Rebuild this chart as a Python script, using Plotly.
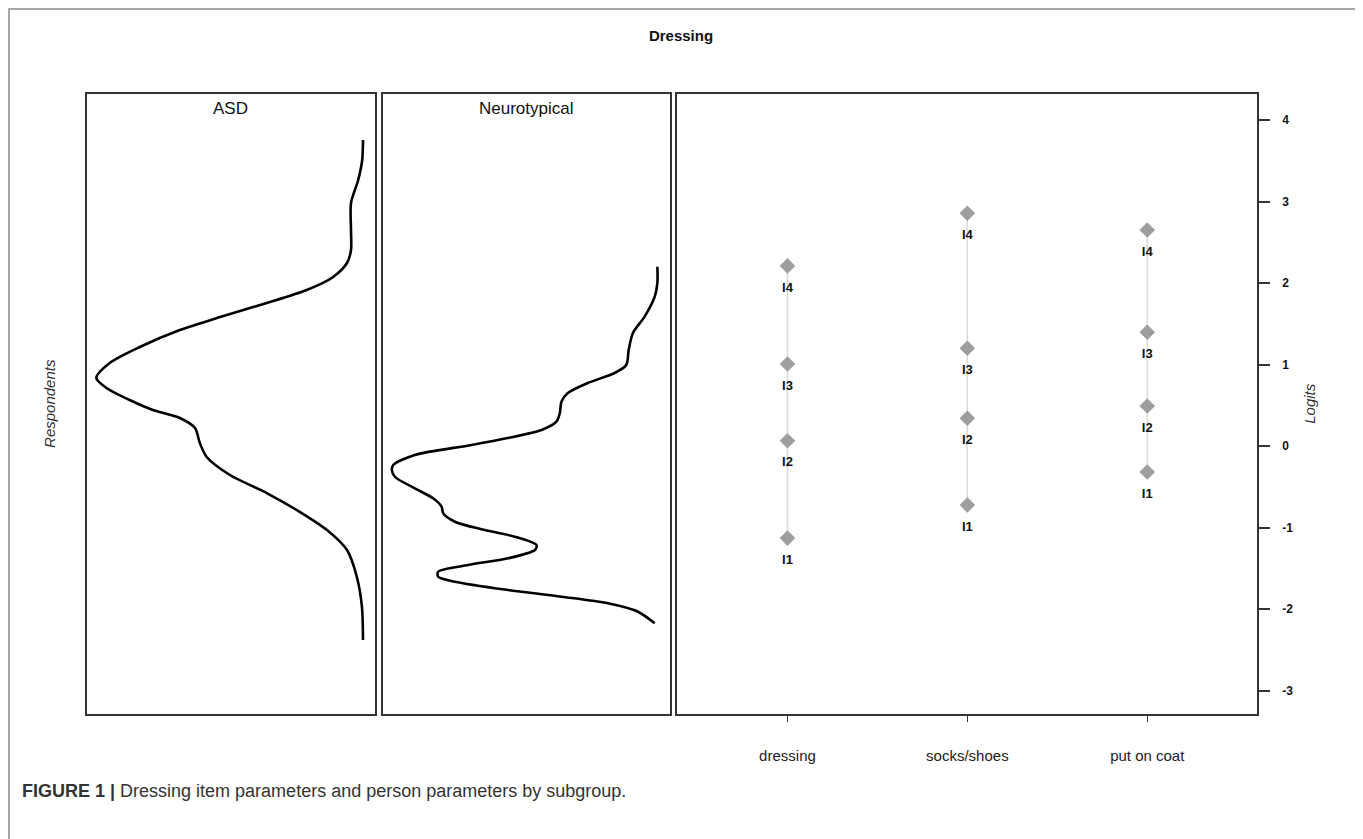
import plotly.graph_objects as go

# ---------------- data ----------------
title_text = "Dressing"
groups = ["ASD", "Neurotypical"]

# person-parameter density curves (logit, relative density; peak = 1)
asd_logit = [3.755, 3.509, 3.264, 2.982, 2.650, 2.405, 2.245, 2.074, 1.914, 1.755, 1.583, 1.423,
             1.215, 1.018, 0.834, 0.712, 0.564, 0.442, 0.344, 0.221, 0.037, -0.135, -0.356,
             -0.577, -0.810, -1.031, -1.276, -1.607, -1.975, -2.380]
asd_dens = [0.0, 0.003, 0.018, 0.045, 0.045, 0.045, 0.060, 0.112, 0.211, 0.361, 0.536, 0.687,
            0.837, 0.950, 1.0, 0.962, 0.875, 0.788, 0.687, 0.630, 0.612, 0.586, 0.499,
            0.361, 0.236, 0.135, 0.060, 0.023, 0.004, 0.0]

nt_logit = [2.200, 2.000, 1.832, 1.587, 1.387, 1.178, 0.994, 0.896, 0.773, 0.650, 0.544, 0.405,
            0.298, 0.196, 0.098, 0.012, -0.110, -0.233, -0.294, -0.377, -0.519, -0.642, -0.745,
            -0.826, -0.929, -1.022, -1.113, -1.215, -1.276, -1.378, -1.460, -1.542, -1.604,
            -1.665, -1.767, -1.849, -1.930, -2.033, -2.175]
nt_dens = [0.001, 0.001, 0.011, 0.049, 0.093, 0.109, 0.118, 0.162, 0.263, 0.338, 0.362, 0.368,
           0.381, 0.437, 0.564, 0.700, 0.914, 0.995, 1.0, 0.989, 0.914, 0.845, 0.813,
           0.807, 0.763, 0.663, 0.538, 0.456, 0.462, 0.563, 0.713, 0.826, 0.826,
           0.763, 0.563, 0.362, 0.187, 0.074, 0.011]

# item thresholds (logits)
items = ["dressing", "socks/shoes", "put on coat"]
threshold_labels = ["I1", "I2", "I3", "I4"]
dressing_thr = [-1.13, 0.065, 1.006, 2.21]
socks_thr = [-0.724, 0.34, 1.199, 2.855]
coat_thr = [-0.319, 0.49, 1.395, 2.65]
item_thresholds = [dressing_thr, socks_thr, coat_thr]

logit_ticks = [-3, -2, -1, 0, 1, 2, 3, 4]
caption = "<b>FIGURE 1 |</b> Dressing item parameters and person parameters by subgroup."

# ---------------- layout geometry ----------------
W, H = 1363, 839
OFF = 8  # page body margin of the html page
def px_x(x): return (x - OFF) / W
def px_y(y): return 1 - (y - OFF) / H

y_dom = [px_y(713.5), px_y(94)]
y_rng = [-3.282, 4.319]
dens_rng = [1.035, -0.045]

fig = go.Figure()

FONT = "Liberation Sans, Arial, sans-serif"
BOX = "#333333"

# density curves
fig.add_trace(go.Scatter(x=asd_dens, y=asd_logit, mode="lines", xaxis="x", yaxis="y",
                         line=dict(color="black", width=2.6, shape="spline", smoothing=0.8),
                         showlegend=False, hoverinfo="skip"))
fig.add_trace(go.Scatter(x=nt_dens, y=nt_logit, mode="lines", xaxis="x2", yaxis="y2",
                         line=dict(color="black", width=2.6, shape="spline", smoothing=0.8),
                         showlegend=False, hoverinfo="skip"))

# item map
for i, (name, thr) in enumerate(zip(items, item_thresholds)):
    xpos = i + 1
    fig.add_trace(go.Scatter(x=[xpos, xpos], y=[min(thr), max(thr)], mode="lines",
                             xaxis="x3", yaxis="y3",
                             line=dict(color="#DADADA", width=1.5),
                             showlegend=False, hoverinfo="skip"))
    fig.add_trace(go.Scatter(x=[xpos] * len(thr), y=thr, mode="markers",
                             xaxis="x3", yaxis="y3",
                             marker=dict(symbol="diamond", size=12, color="#9E9E9E",
                                         line=dict(width=0)),
                             showlegend=False, hoverinfo="skip"))
    # labels placed below each threshold (transparent marker sets the offset)
    fig.add_trace(go.Scatter(x=[xpos] * len(thr), y=thr, mode="markers+text",
                             xaxis="x3", yaxis="y3",
                             marker=dict(size=24, color="rgba(0,0,0,0)", line=dict(width=0)),
                             text=threshold_labels, textposition="bottom center",
                             textfont=dict(family=FONT, size=13, color="#111111", weight="bold"),
                             showlegend=False, hoverinfo="skip"))

common_box = dict(showline=True, mirror=True, linecolor=BOX, linewidth=1.5,
                  showgrid=False, zeroline=False)

fig.update_layout(
    width=W, height=H, autosize=False,
    margin=dict(l=0, r=0, t=0, b=0),
    paper_bgcolor="white", plot_bgcolor="white",
    font=dict(family=FONT, color="#222222"),
    title=dict(text="<b>" + title_text + "</b>", x=px_x(681), xanchor="center",
               y=px_y(36), yanchor="middle", font=dict(family=FONT, size=15, color="#111111")),
    xaxis=dict(domain=[px_x(87), px_x(375)], range=dens_rng, showticklabels=False,
               ticks="", **common_box),
    yaxis=dict(domain=y_dom, range=y_rng, showticklabels=False, ticks="",
               title=dict(text="Respondents", standoff=26,
                          font=dict(family=FONT, size=15, style="italic", color="#333333")),
               **common_box),
    xaxis2=dict(domain=[px_x(382.6), px_x(669.6)], range=dens_rng, showticklabels=False,
                ticks="", anchor="y2", **common_box),
    yaxis2=dict(domain=y_dom, range=y_rng, showticklabels=False, ticks="", anchor="x2",
                **common_box),
    xaxis3=dict(domain=[px_x(677), px_x(1257)], range=[0.386, 3.61], anchor="y3",
                tickmode="array", tickvals=[1, 2, 3], ticktext=items,
                ticks="outside", ticklen=7, tickcolor=BOX, tickwidth=1.2,
                ticklabelstandoff=21,
                tickfont=dict(family=FONT, size=15, color="#222222"), **common_box),
    yaxis3=dict(domain=y_dom, range=y_rng, anchor="x3", side="right",
                tickmode="array", tickvals=logit_ticks,
                ticktext=[str(v) for v in logit_ticks],
                ticks="outside", ticklen=11, tickcolor=BOX, tickwidth=1.5,
                ticklabelstandoff=10,
                tickfont=dict(family=FONT, size=12, color="#111111", weight="bold"),
                title=dict(text="Logits", standoff=12,
                           font=dict(family=FONT, size=15, style="italic", color="#333333")),
                **common_box),
)

# panel titles
for xa, g in zip(["x domain", "x2 domain"], groups):
    fig.add_annotation(text=g, xref=xa, yref="paper", x=0.5, y=px_y(108),
                       xanchor="center", yanchor="middle", showarrow=False,
                       font=dict(family=FONT, size=17, color="#111111"))

# caption
fig.add_annotation(text=caption, xref="paper", yref="paper", x=px_x(20), y=px_y(791),
                   xanchor="left", yanchor="middle", showarrow=False,
                   font=dict(family=FONT, size=18, color="#333333"))

# outer figure frame (kept inside the drawable page area)
fig.add_shape(type="rect", xref="paper", yref="paper",
              x0=1.0 / W, x1=px_x(1356), y0=px_y(870), y1=1 - 1.0 / H,
              line=dict(color="#8A8A8A", width=1.5), fillcolor="rgba(0,0,0,0)", layer="below")

fig.write_html("out.html")
